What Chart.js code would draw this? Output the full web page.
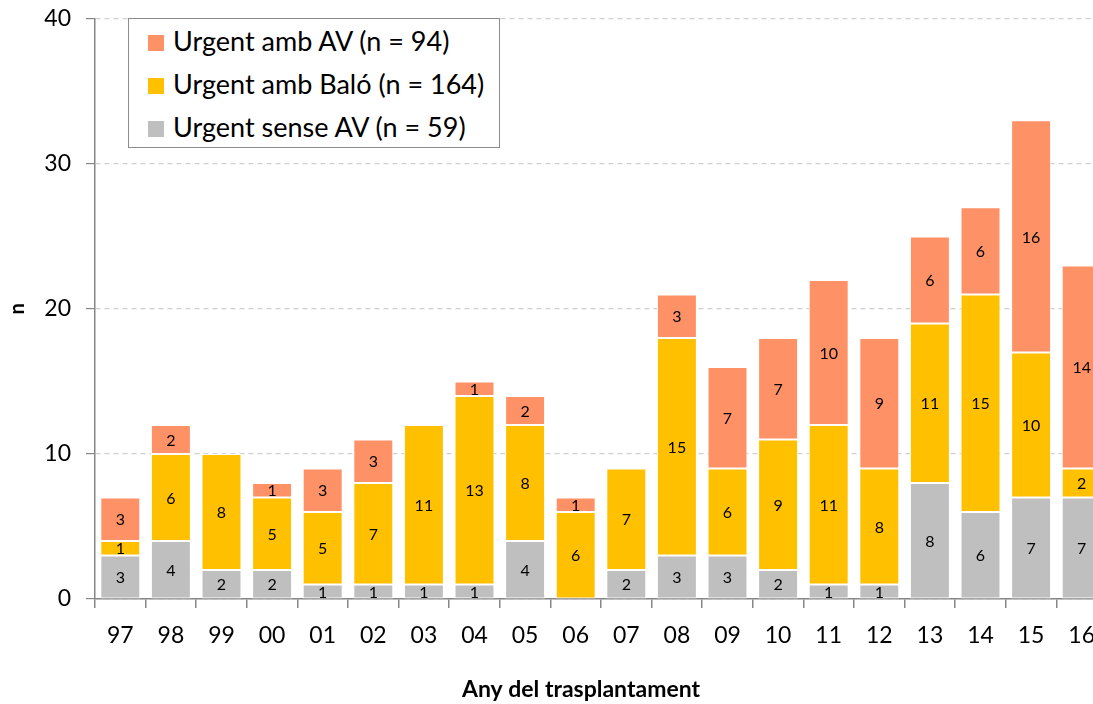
<!DOCTYPE html>
<html>
<head>
<meta charset="utf-8">
<script src="https://cdn.jsdelivr.net/npm/chart.js@4"></script>
<style>
  html, body { margin: 0; padding: 0; background: #fff; overflow: hidden; }
  #wrap { position: relative; width: 1120px; height: 704px; overflow: hidden; }
  #chart { position: absolute; left: 0; top: -10px; }
  #legend {
    position: absolute; left: 128px; top: 18px; width: 370px; height: 128px;
    border: 1.5px solid #8c8c8c; background: #fff;
    font-family: Lato, "Open Sans", sans-serif; font-size: 27px; color: #000;
  }
  #legend div { position: absolute; left: 19px; height: 32px; line-height: 32px; white-space: nowrap; }
  #legend span { display: inline-block; width: 16px; height: 16px; margin-right: 9px; vertical-align: 0px; }
</style>
</head>
<body>
<div id="wrap">
  <canvas id="chart" width="1120" height="714"></canvas>
  <div id="legend">
    <div style="top:6px"><span style="background:#ff9166"></span>Urgent amb AV (n = 94)</div>
    <div style="top:49px"><span style="background:#ffc000"></span>Urgent amb Baló (n = 164)</div>
    <div style="top:92px"><span style="background:#bfbfbf"></span>Urgent sense AV (n = 59)</div>
  </div>
</div>
<script>
  // data
  const years = ['97', '98', '99', '00', '01', '02', '03', '04', '05', '06',
                 '07', '08', '09', '10', '11', '12', '13', '14', '15', '16'];
  const senseAV = [3, 4, 2, 2, 1, 1, 1, 1, 4, 0, 2, 3, 3, 2, 1, 1, 8, 6, 7, 7];
  const ambBalo = [1, 6, 8, 5, 5, 7, 11, 13, 8, 6, 7, 15, 6, 9, 11, 8, 11, 15, 10, 2];
  const ambAV = [3, 2, 0, 1, 3, 3, 0, 1, 2, 1, 0, 3, 7, 7, 10, 9, 6, 6, 16, 14];
  const yTicks = [0, 10, 20, 30, 40];

  const font = 'Lato, "Open Sans", sans-serif';

  // writes the value in the middle of each segment (skips zeros)
  const segmentLabels = {
    id: 'segmentLabels',
    afterDatasetsDraw(chart) {
      const ctx = chart.ctx;
      ctx.save();
      ctx.font = '16px ' + font;
      ctx.fillStyle = '#000';
      ctx.textAlign = 'center';
      ctx.textBaseline = 'middle';
      chart.data.datasets.forEach((ds, i) => {
        chart.getDatasetMeta(i).data.forEach((bar, j) => {
          const v = ds.data[j];
          if (!v) return;
          ctx.fillText(String(v), bar.x, (bar.y + bar.base) / 2 + 1);
        });
      });
      // x axis title, centred under the whole original figure rather than the plot
      ctx.font = 'bold 23px ' + font;
      ctx.fillText('Any del trasplantament', 581, 700);
      ctx.restore();
    }
  };

  const barStyle = { borderColor: '#ffffff', borderWidth: 1, borderSkipped: false,
                     barPercentage: 0.79, categoryPercentage: 1.0 };

  new Chart(document.getElementById('chart'), {
    type: 'bar',
    data: {
      labels: years,
      datasets: [
        Object.assign({ label: 'Urgent sense AV (n = 59)', data: senseAV, backgroundColor: '#bfbfbf' }, barStyle),
        Object.assign({ label: 'Urgent amb Baló (n = 164)', data: ambBalo, backgroundColor: '#ffc000' }, barStyle),
        Object.assign({ label: 'Urgent amb AV (n = 94)', data: ambAV, backgroundColor: '#ff9166' }, barStyle)
      ]
    },
    options: {
      responsive: false,
      animation: false,
      layout: { padding: { top: 0, right: 13, left: 6, bottom: 0 } },
      plugins: { legend: { display: false }, tooltip: { enabled: false } },
      scales: {
        x: {
          stacked: true,
          offset: true,
          grid: { offset: true, drawOnChartArea: false, tickLength: 9, color: '#868686', lineWidth: 1.5 },
          border: { color: '#868686', width: 1.5 },
          ticks: { color: '#000', font: { family: font, size: 23 }, padding: 14, maxRotation: 0, autoSkip: false },
          afterFit(s) { s.height = 105; }
        },
        y: {
          stacked: true,
          min: 0, max: 40,
          afterBuildTicks(s) { s.ticks = yTicks.map(v => ({ value: v })); },
          grid: { color: '#d0d0d0', lineWidth: 1.2, tickLength: 9, tickColor: '#868686', tickBorderDash: [] },
          border: { color: '#868686', width: 1.5, dash: [5, 4] },
          ticks: { color: '#000', font: { family: font, size: 23 }, padding: 15 },
          title: { display: true, text: 'n', color: '#000',
                   font: { family: font, size: 20, weight: 'bold' }, padding: { top: 0, bottom: 0 } },
          afterFit(s) { s.width = 89; }
        }
      }
    },
    plugins: [segmentLabels]
  });
</script>
</body>
</html>
